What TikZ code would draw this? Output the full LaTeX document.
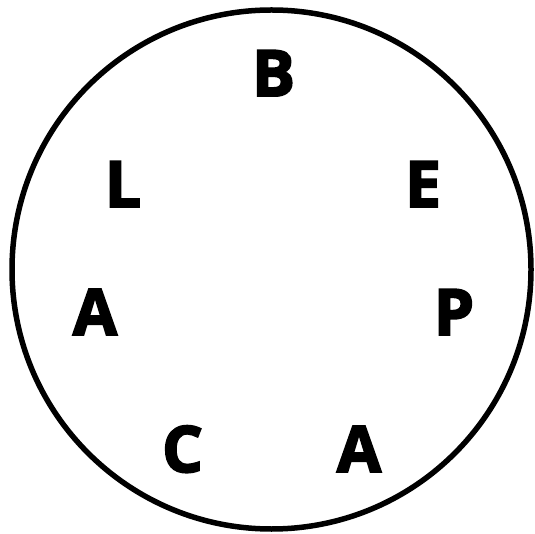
\documentclass[tikz,border=0pt]{standalone}
\usepackage{fontspec}
\setmainfont{Open Sans}
\newfontfamily\heavyfont[FakeBold=3]{Open Sans Bold}
\usetikzlibrary{positioning}

\begin{document}
\begin{tikzpicture}[
  x=1pt,y=1pt,
  rim/.style={draw=black,line width=5.5pt},
  letter/.style={font=\fontsize{64}{64}\heavyfont,inner sep=0pt,anchor=base}
]
\useasboundingbox (0,0) rectangle (535,533);
\node[circle,rim,minimum size=519pt,inner sep=0pt] (ring) at (271.5,263.5) {};
\node[letter] (b) at (273.5,437) {B};
\node[letter] (e) at (423,326) {E};
\node[letter] (p) at (454,198) {P};
\node[letter] (a1) at (359,61) {A};
\node[letter] (c) at (182.5,61) {C};
\node[letter] (a2) at (95,198) {A};
\node[letter] (l) at (123,326) {L};
\end{tikzpicture}
\end{document}
